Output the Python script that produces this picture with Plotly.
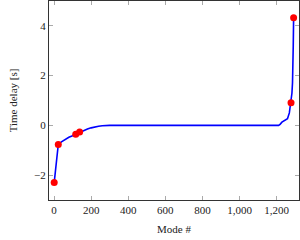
import plotly.graph_objects as go

# Continuous curve
curve_x = [1, 23, 40, 60, 80, 100, 117, 138, 160, 180, 200, 220, 240, 260, 280, 300,
           1210, 1218, 1228, 1237, 1248, 1258, 1268, 1277, 1282, 1285, 1287, 1289, 1291]
curve_y = [-2.3, -0.77, -0.66, -0.56, -0.48, -0.42, -0.36, -0.28, -0.21, -0.15, -0.10, -0.06, -0.035, -0.015, -0.004, 0.0,
           0.0, 0.04, 0.13, 0.17, 0.22, 0.27, 0.5, 0.91, 1.3, 1.7, 2.2, 3.2, 4.33]

# Highlighted points
pts_x = [1, 23, 117, 138, 1277, 1291]
pts_y = [-2.3, -0.77, -0.36, -0.27, 0.91, 4.33]

x_ticks = [0, 200, 400, 600, 800, 1000, 1200]
x_tick_labels = ["0", "200", "400", "600", "800", "1,000", "1,200"]
y_ticks = [-2, 0, 2, 4]
y_tick_labels = ["\u22122", "0", "2", "4"]

fig = go.Figure()
fig.add_trace(go.Scatter(x=curve_x, y=curve_y, mode="lines",
                         line=dict(color="#0000ff", width=1.6), showlegend=False))
fig.add_trace(go.Scatter(x=pts_x, y=pts_y, mode="markers",
                         marker=dict(color="#ff0000", size=7), showlegend=False))

font = dict(family="'Liberation Serif', 'DejaVu Serif', serif", size=11, color="#222")
axis_common = dict(showgrid=False, zeroline=False, showline=True, mirror="ticks",
                   linecolor="#333", linewidth=1, ticks="inside", ticklen=4,
                   tickcolor="#aaa", tickwidth=1, tickfont=font)

fig.update_layout(
    width=300, height=240,
    margin=dict(l=49, r=1, t=1, b=40),
    plot_bgcolor="white", paper_bgcolor="white",
    font=font,
    xaxis=dict(range=[-27, 1320], tickvals=x_ticks, ticktext=x_tick_labels,
               title=dict(text="Mode #", font=font, standoff=10), **axis_common),
    yaxis=dict(range=[-3, 5], tickvals=y_ticks, ticktext=y_tick_labels,
               title=dict(text="Time delay [s]", font=font, standoff=14), **axis_common),
)

fig.write_html("out.html", config={"displayModeBar": False},
               post_script="document.body.style.margin='0';document.body.style.overflow='hidden';")
